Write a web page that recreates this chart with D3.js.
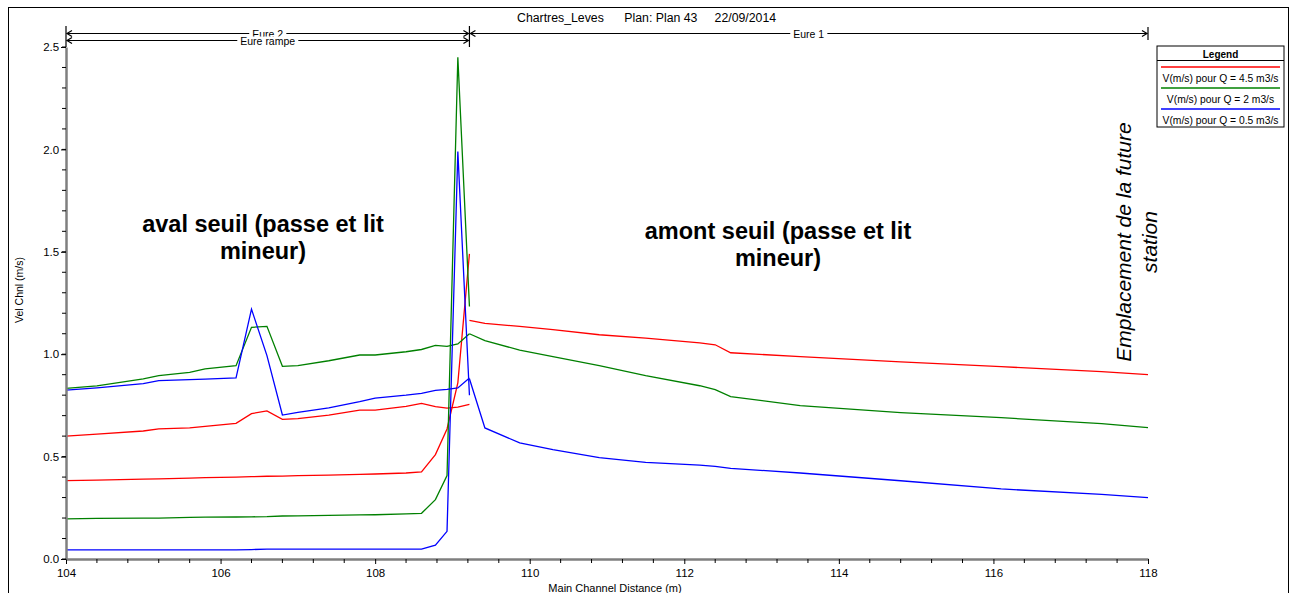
<!DOCTYPE html>
<html>
<head>
<meta charset="utf-8">
<script src="https://cdn.jsdelivr.net/npm/d3@7"></script>
<style>
  html, body { margin: 0; padding: 0; background: #fff; overflow: hidden; }
  svg { display: block; font-family: 'Liberation Sans', Arial, sans-serif; }
</style>
</head>
<body>
<svg id="chart" width="1293" height="593"></svg>
<script>
// --- data ---
const SERIES_NAMES = ['V(m/s) pour Q = 4.5 m3/s', 'V(m/s) pour Q = 2 m3/s', 'V(m/s) pour Q = 0.5 m3/s'];
const SERIES_COLORS = ['#ff0000', '#008000', '#0000ff'];

// left part (Eure 2 / Eure rampe), stations in m
const xLeft = [104.0, 104.4, 105.0, 105.2, 105.6, 105.8, 106.2, 106.4, 106.6, 106.8,
               107.0, 107.4, 107.8, 108.0, 108.4, 108.6, 108.78, 108.93, 109.07, 109.22];
const redUpper   = [0.600, 0.610, 0.625, 0.635, 0.640, 0.648, 0.662, 0.710, 0.723, 0.682,
                    0.685, 0.703, 0.727, 0.727, 0.745, 0.760, 0.744, 0.737, 0.742, 0.755];
const greenUpper = [0.833, 0.845, 0.879, 0.895, 0.911, 0.928, 0.944, 1.131, 1.136, 0.941,
                    0.944, 0.968, 0.996, 0.996, 1.012, 1.023, 1.043, 1.038, 1.050, 1.100];
const blueUpper  = [0.825, 0.836, 0.856, 0.871, 0.876, 0.878, 0.884, 1.220, 0.993, 0.703,
                    0.716, 0.738, 0.768, 0.786, 0.800, 0.809, 0.823, 0.828, 0.835, 0.884];
const redLower   = [0.383, 0.385, 0.390, 0.391, 0.395, 0.397, 0.400, 0.402, 0.404, 0.405,
                    0.407, 0.410, 0.413, 0.415, 0.420, 0.425, 0.510, 0.635, 0.860, 1.490];
const greenLower = [0.196, 0.198, 0.200, 0.200, 0.203, 0.204, 0.205, 0.206, 0.207, 0.210,
                    0.211, 0.213, 0.215, 0.216, 0.220, 0.223, 0.290, 0.407, 2.450, 1.233];
const blueLower  = [0.045, 0.045, 0.045, 0.045, 0.045, 0.045, 0.045, 0.046, 0.048, 0.048,
                    0.048, 0.048, 0.048, 0.048, 0.048, 0.048, 0.068, 0.135, 1.990, 0.800];

// right part (Eure 1)
const xRight = [109.22, 109.42, 109.87, 110.3, 110.9, 111.5, 112.2, 112.4, 112.6, 113.5, 114.8, 116.1, 117.4, 118.0];
const redRight   = [1.165, 1.150, 1.136, 1.120, 1.095, 1.078, 1.055, 1.046, 1.007, 0.988, 0.963, 0.939, 0.915, 0.900];
const greenRight = [1.100, 1.066, 1.020, 0.988, 0.944, 0.895, 0.846, 0.827, 0.793, 0.749, 0.715, 0.690, 0.661, 0.641];
const blueRight  = [0.880, 0.640, 0.567, 0.534, 0.495, 0.472, 0.458, 0.452, 0.443, 0.420, 0.382, 0.342, 0.316, 0.300];

const X_TICKS = [104, 106, 108, 110, 112, 114, 116, 118];
const Y_TICKS = [0.0, 0.5, 1.0, 1.5, 2.0, 2.5];

// reach bars on top
const REACH_NAMES = ['Eure 2', 'Eure rampe', 'Eure 1'];
const REACH_FROM = [104, 104, 109.22];
const REACH_TO = [109.22, 109.22, 118];
const REACH_ROW = [0, 1, 0];

const svg = d3.select('#chart');

const x = d3.scaleLinear().domain([104, 118]).range([66, 1148]);
const y = d3.scaleLinear().domain([0, 2.5]).range([559, 47]);

// outer frame
svg.append('rect')
  .attr('x', 8.5).attr('y', 7.5)
  .attr('width', 1280).attr('height', 620)
  .attr('fill', 'none').attr('stroke', '#000').attr('stroke-width', 1);

// title
svg.append('text')
  .attr('x', 517).attr('y', 22)
  .attr('font-size', '12.3px')
  .attr('fill', '#000')
  .style('white-space', 'pre')
  .text('Chartres_Leves      Plan: Plan 43     22/09/2014');

// series lines
const line = d3.line().x(d => x(d[0])).y(d => y(d[1]));
const paths = [
  [xLeft, redUpper, 0], [xLeft, redLower, 0],
  [xLeft, greenUpper, 1], [xLeft, greenLower, 1],
  [xLeft, blueUpper, 2], [xLeft, blueLower, 2],
  [xRight, redRight, 0], [xRight, greenRight, 1], [xRight, blueRight, 2]
];
paths.forEach(([xs, vs, s]) => {
  svg.append('path')
    .datum(xs.map((xv, i) => [xv, vs[i]]))
    .attr('d', line)
    .attr('fill', 'none')
    .attr('stroke', SERIES_COLORS[s])
    .attr('stroke-width', 1.3);
});

// axes
const axisColor = '#7f7f7f';
const minorX = d3.range(104, 118.001, 0.4).filter(v => X_TICKS.indexOf(Math.round(v * 100) / 100) < 0);
const minorY = d3.range(0, 2.501, 0.1);

const gx = svg.append('g').attr('transform', `translate(0,${y(0)})`)
  .call(d3.axisBottom(x).tickValues(X_TICKS).tickFormat(d3.format('d')).tickSize(5).tickSizeOuter(0));
gx.select('.domain').attr('stroke', axisColor).attr('stroke-width', 2.5);
gx.selectAll('line').attr('stroke', '#000');
gx.selectAll('text').attr('font-size', '11.5px').attr('fill', '#000').attr('dy', '0.85em')
  .attr('font-family', "'Liberation Sans', Arial, sans-serif");
svg.append('g').selectAll('line').data(minorX).join('line')
  .attr('x1', d => x(d)).attr('x2', d => x(d))
  .attr('y1', y(0)).attr('y2', y(0) + 4)
  .attr('stroke', '#000');

const gy = svg.append('g').attr('transform', `translate(${x(104)},0)`)
  .call(d3.axisLeft(y).tickValues(Y_TICKS).tickFormat(d3.format('.1f')).tickSize(5).tickSizeOuter(0));
gy.select('.domain').attr('stroke', axisColor).attr('stroke-width', 2.5);
gy.selectAll('line').attr('stroke', '#000');
gy.selectAll('text').attr('font-size', '11.5px').attr('fill', '#000').attr('dx', '0.1em')
  .attr('font-family', "'Liberation Sans', Arial, sans-serif");
svg.append('g').selectAll('line').data(minorY).join('line')
  .attr('x1', x(104) - 4).attr('x2', x(104))
  .attr('y1', d => y(d)).attr('y2', d => y(d))
  .attr('stroke', '#000');

// axis titles
svg.append('text')
  .attr('transform', 'translate(23,290) rotate(-90)')
  .attr('text-anchor', 'middle').attr('font-size', '10.5px').attr('fill', '#000')
  .text('Vel Chnl (m/s)');
svg.append('text')
  .attr('x', 615).attr('y', 592)
  .attr('text-anchor', 'middle').attr('font-size', '11px').attr('fill', '#000')
  .text('Main Channel Distance (m)');

// reach bars
const rowY = [33.5, 40.5];
const reachG = svg.append('g');
function arrow(g, xp, yp, dir) {
  g.append('path')
    .attr('d', `M${xp + dir * 5},${yp - 3} L${xp},${yp} L${xp + dir * 5},${yp + 3}`)
    .attr('fill', 'none').attr('stroke', '#000').attr('stroke-width', 1.2);
}
REACH_NAMES.forEach((name, i) => {
  const x0 = x(REACH_FROM[i]) + 1, x1 = x(REACH_TO[i]) - 1, yy = rowY[REACH_ROW[i]];
  reachG.append('line')
    .attr('x1', x0).attr('x2', x1).attr('y1', yy).attr('y2', yy)
    .attr('stroke', '#000').attr('stroke-width', 1);
  arrow(reachG, x0, yy, 1);
  arrow(reachG, x1, yy, -1);
  const cx = (x(REACH_FROM[i]) + x(REACH_TO[i])) / 2;
  const t = reachG.append('text')
    .attr('x', cx).attr('y', yy + 4)
    .attr('text-anchor', 'middle').attr('font-size', '10.5px').attr('fill', '#000')
    .text(name);
  const bb = t.node().getBBox();
  reachG.append('rect')
    .attr('x', bb.x - 3).attr('y', yy - 4).attr('width', bb.width + 6).attr('height', 8)
    .attr('fill', '#fff');
  t.raise();
});
// vertical reach boundaries
[[104, 26, 47], [109.22, 26, 47], [118, 27, 40]].forEach(([xv, a, b]) => {
  reachG.append('line')
    .attr('x1', x(xv)).attr('x2', x(xv)).attr('y1', a).attr('y2', b)
    .attr('stroke', '#000').attr('stroke-width', 1.2);
});

// legend
const lg = svg.append('g').attr('transform', 'translate(1157,46)');
lg.append('rect').attr('width', 127).attr('height', 81)
  .attr('fill', '#fff').attr('stroke', '#000').attr('stroke-width', 1);
lg.append('text').attr('x', 63.5).attr('y', 11.5).attr('text-anchor', 'middle')
  .attr('font-size', '10px').attr('font-weight', 'bold').text('Legend');
lg.append('line').attr('x1', 0).attr('x2', 127).attr('y1', 14.5).attr('y2', 14.5).attr('stroke', '#000');
SERIES_NAMES.forEach((nm, i) => {
  const y0 = 21 + i * 21;
  lg.append('line').attr('x1', 4).attr('x2', 123).attr('y1', y0).attr('y2', y0)
    .attr('stroke', SERIES_COLORS[i]).attr('stroke-width', 1.3);
  lg.append('text').attr('x', 63.5).attr('y', y0 + 14.5).attr('text-anchor', 'middle')
    .attr('font-size', '10.3px').text(nm);
});

// annotations
function multiline(xc, y0, lines, size) {
  const t = svg.append('text').attr('x', xc).attr('y', y0)
    .attr('text-anchor', 'middle').attr('font-size', size + 'px').attr('font-weight', 'bold');
  lines.forEach((s, i) => t.append('tspan').attr('x', xc).attr('dy', i ? 27 : 0).text(s));
}
multiline(263, 232, ['aval seuil (passe et lit', 'mineur)'], 23.5);
multiline(778, 239, ['amont seuil (passe et lit', 'mineur)'], 23.5);

const st = svg.append('text')
  .attr('transform', 'translate(1131,242) rotate(-90)')
  .attr('text-anchor', 'middle').attr('font-size', '21px').attr('font-style', 'italic');
st.append('tspan').attr('x', 0).attr('dy', 0).text('Emplacement de la future');
st.append('tspan').attr('x', 0).attr('dy', 26).text('station');
</script>
</body>
</html>
